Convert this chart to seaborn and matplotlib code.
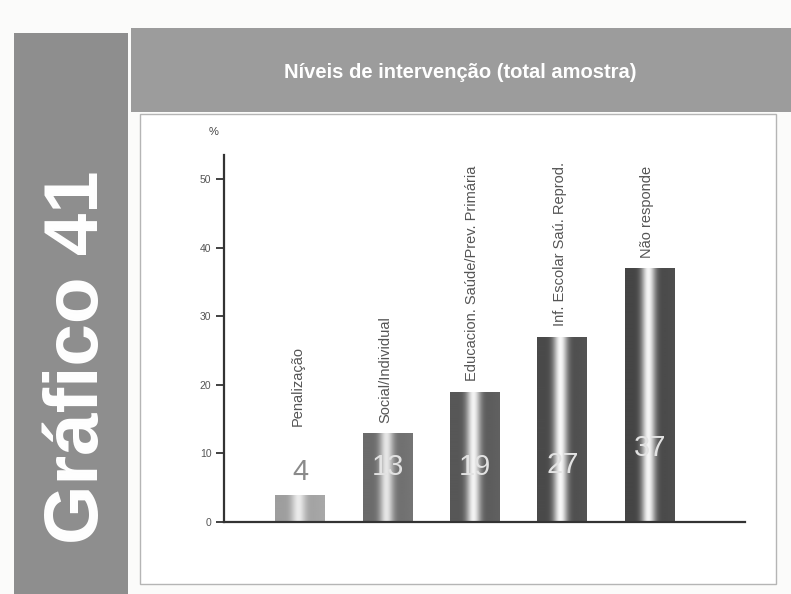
import numpy as np
import matplotlib
matplotlib.use("Agg")
import matplotlib.pyplot as plt
from matplotlib.patches import Rectangle
import pandas as pd
import seaborn as sns

# Data
categories = ["Penalização", "Social/Individual", "Educacion. Saúde/Prev. Primária",
              "Inf. Escolar Saú. Reprod.", "Não responde"]
values = [4, 13, 19, 27, 37]
y_ticks = [0, 10, 20, 30, 40, 50]
title = "Níveis de intervenção (total amostra)"
panel_label = "Gráfico 41"
unit_label = "%"

sns.set_theme(style="white")
plt.rcParams['font.family'] = ['Liberation Sans', 'DejaVu Sans']

W, H = 791, 594
fig = plt.figure(figsize=(W / 100, H / 100), dpi=100)
fig.patch.set_facecolor("#fbfbfa")


def px_rect(x0, y0, x1, y1, **kw):
    """Rectangle given in pixel coordinates measured from the top-left."""
    r = Rectangle((x0 / W, 1 - y1 / H), (x1 - x0) / W, (y1 - y0) / H,
                  transform=fig.transFigure, zorder=-5, **kw)
    fig.patches.append(r)
    return r


# page furniture: side band, header band and white chart panel
px_rect(14, 33, 128, 600, facecolor="#8e8e8e", edgecolor="none")
px_rect(131, 28, 795, 112, facecolor="#9c9c9c", edgecolor="none")
px_rect(140, 114, 776, 584, facecolor="white", edgecolor="#b5b5b5", linewidth=1.0)

fig.text(79 / W, 1 - 357 / H, panel_label, rotation=90, color="white",
         fontsize=55, fontweight="bold", ha="center", va="center")
fig.text(460 / W, 1 - 72 / H, title, color="white", fontsize=14.5,
         fontweight="bold", ha="center", va="center")

# chart axes
ax = fig.add_axes([224 / W, 1 - 522 / H, (745 - 224) / W, (522 - 155) / H])
ax.set_facecolor("none")
ax.set_zorder(5)

df = pd.DataFrame({"categoria": categories, "valor": values})
sns.barplot(data=df, x="categoria", y="valor", ax=ax, color="#888888",
            width=0.57, saturation=1, edgecolor="none")

ax.set_xlim(-0.87, len(categories) - 1 + 1.09)
ax.set_ylim(0, 53.5)

# cylinder-like shading for each bar
edge_shade = [0.62, 0.42, 0.34, 0.29, 0.27]
mid_shade = [0.92, 0.90, 0.95, 0.97, 0.96]
t = np.linspace(0, 1, 200)
for i, patch in enumerate(ax.patches):
    x0, w, h = patch.get_x(), patch.get_width(), patch.get_height()
    prof = np.cos(np.pi * (t - 0.47)) ** 10
    shade = edge_shade[i] + (mid_shade[i] - edge_shade[i]) * prof
    shade = shade + 0.08 * np.clip(t - 0.5, 0, 1)  # slightly lighter right flank
    img = ax.imshow(shade[np.newaxis, :], extent=[x0, x0 + w, 0, h], aspect="auto",
                    cmap="gray", vmin=0, vmax=1, zorder=3, interpolation="bilinear")
    img.set_clip_path(patch)

ax.set_xlim(-0.87, len(categories) - 1 + 1.09)
ax.set_ylim(0, 53.5)

# category names standing above the bars, value numbers near the base
value_y = [None, 8, 8, 8.3, 10.8]
for i, (cat, v) in enumerate(zip(categories, values)):
    if i == 0:
        ax.text(i, v + 1.3, str(v), ha="center", va="bottom", fontsize=21,
                color="#8a8a8a", zorder=5)
        ax.text(i - 0.03, v + 10.0, cat, rotation=90, ha="center", va="bottom",
                fontsize=10.5, color="#555555", zorder=5)
    else:
        ax.text(i, value_y[i], str(v), ha="center", va="center", fontsize=21,
                color="#e2e2e2", zorder=5)
        ax.text(i - 0.03, v + 1.5, cat, rotation=90, ha="center", va="bottom",
                fontsize=10.5, color="#555555", zorder=5)

ax.set_xlabel("")
ax.set_ylabel("")
ax.set_xticks([])
ax.set_yticks(y_ticks)
ax.set_yticklabels([str(v) for v in y_ticks])
ax.tick_params(axis="y", direction="out", length=6, width=1.3, color="#333333",
               labelsize=7.5, labelcolor="#555555", left=True, pad=3)

for side in ["top", "right"]:
    ax.spines[side].set_visible(False)
for side in ["left", "bottom"]:
    ax.spines[side].set_color("#333333")
    ax.spines[side].set_linewidth(1.6)
    ax.spines[side].set_zorder(6)

ax.text(-0.02, 1.05, unit_label, transform=ax.transAxes, ha="center", va="bottom",
        fontsize=8, color="#444444")

fig.savefig("out.png", dpi=100, facecolor=fig.get_facecolor())
